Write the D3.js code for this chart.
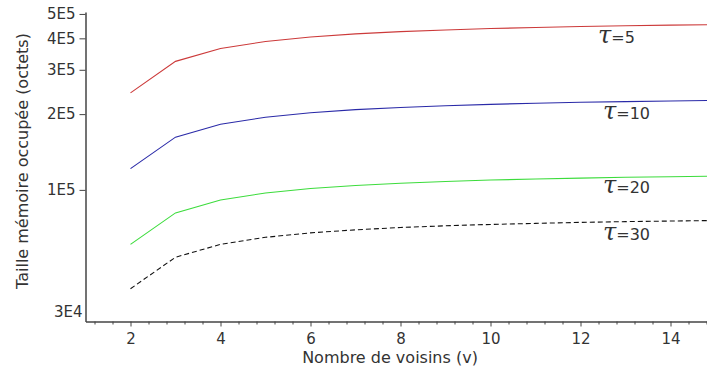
<!DOCTYPE html>
<html>
<head>
<meta charset="utf-8">
<script src="https://cdn.jsdelivr.net/npm/d3@7"></script>
<style>
  html, body { margin: 0; padding: 0; background: #fff; }
  svg { display: block; }
  text { font-family: "DejaVu Sans", Verdana, sans-serif; fill: #333; }
</style>
</head>
<body>
<svg id="chart" width="707" height="369"></svg>
<script>
// ---- data ----
const voisins = [2, 3, 4, 5, 6, 7, 8, 9, 10, 11, 12, 13, 14, 15];
const tau5  = [243000, 324000, 364500, 388800, 405000, 416600, 425300, 432000, 437400, 441800, 445500, 448600, 451300, 453600];
const tau10 = [121500, 162000, 182300, 194400, 202500, 208300, 212600, 216000, 218700, 220900, 222800, 224300, 225600, 226800];
const tau20 = [60750, 81000, 91100, 97200, 101300, 104100, 106300, 108000, 109400, 110500, 111400, 112200, 112800, 113400];
const tau30 = [40500, 54000, 60750, 64800, 67500, 69400, 70900, 72000, 72900, 73600, 74300, 74800, 75200, 75600];
const seriesNames = ["5", "10", "20", "30"];
const yTickValues = [3e4, 1e5, 2e5, 3e5, 4e5, 5e5];
const yTickLabels = ["3E4", "1E5", "2E5", "3E5", "4E5", "5E5"];
const xTickValues = [2, 4, 6, 8, 10, 12, 14];
const xTitle = "Nombre de voisins (v)";
const yTitle = "Taille mémoire occupée (octets)";

// ---- layout ----
const svg = d3.select("#chart");
svg.append("rect").attr("width", 707).attr("height", 369).attr("fill", "#fff");

const x = d3.scaleLinear().domain([1, 15]).range([85.5, 715.5]);
const y = d3.scaleLog().domain([3e4, 5.09e5]).range([321.5, 12]);

const axisColor = "#444";

// x axis
const xAxis = d3.axisBottom(x)
  .tickValues(xTickValues)
  .tickFormat(d3.format("d"))
  .tickSize(5)
  .tickSizeOuter(0);
const gx = svg.append("g").attr("transform", `translate(0,${y(3e4)})`).call(xAxis);
gx.select(".domain").attr("stroke", axisColor).attr("stroke-width", 1.5);
gx.selectAll(".tick line").attr("stroke", axisColor);
gx.selectAll(".tick text").attr("font-size", 15).attr("dy", "0.95em").attr("fill", "#333")
  .style("font-family", '"DejaVu Sans", sans-serif');

// x minor ticks
const minor = d3.range(1.2, 15.01, 0.4).filter(v => !xTickValues.some(t => Math.abs(t - v) < 1e-6));
const gxm = svg.append("g").attr("transform", `translate(0,${y(3e4)})`)
  .call(d3.axisBottom(x).tickValues(minor).tickSize(3).tickFormat(""));
gxm.select(".domain").remove();
gxm.selectAll(".tick line").attr("stroke", axisColor);

// y axis
const yAxis = d3.axisLeft(y)
  .tickValues(yTickValues)
  .tickFormat((d, i) => yTickLabels[i])
  .tickSize(6)
  .tickSizeOuter(0);
const gy = svg.append("g").attr("transform", `translate(${x(1)},0)`).call(yAxis);
gy.select(".domain").attr("stroke", axisColor).attr("stroke-width", 1.5);
gy.selectAll(".tick line").attr("stroke", axisColor);
gy.selectAll(".tick text").attr("font-size", 15).attr("fill", "#333").attr("x", -10)
  .style("font-family", '"DejaVu Sans", sans-serif');
// bottom label sits above the corner, no tick mark
gy.selectAll(".tick").filter(d => d === 3e4).each(function() {
  d3.select(this).select("line").remove();
  d3.select(this).select("text").attr("x", -3).attr("y", -10);
});

// titles
svg.append("text").attr("x", 390).attr("y", 363).attr("text-anchor", "middle")
  .attr("font-size", 16).text(xTitle);
svg.append("text").attr("transform", "translate(28,161) rotate(-90)")
  .attr("text-anchor", "middle").attr("font-size", 16).text(yTitle);

// lines
const lineGen = d3.line().x((d, i) => x(voisins[i])).y(d => y(d));
const seriesData = [tau5, tau10, tau20, tau30];
const colors = ["#cc3a3a", "#2a2aa8", "#3cdc3c", "#111"];
const dashes = [null, null, null, "5,3"];
seriesData.forEach((s, k) => {
  svg.append("path").datum(s)
    .attr("fill", "none")
    .attr("stroke", colors[k])
    .attr("stroke-width", 1.1)
    .attr("stroke-dasharray", dashes[k])
    .attr("d", lineGen);
});

// labels near curves
const labelX = [598, 603, 603, 603];
const labelV = [11.2, 11.3, 11.3, 11.3];
const labelOff = [17, 17, 15, 18];
seriesNames.forEach((n, k) => {
  const s = seriesData[k];
  const yy = y(d3.quantile(s.slice(9, 13), 0.5)) + labelOff[k];
  const t = svg.append("text").attr("x", labelX[k]).attr("y", yy).attr("font-size", 16);
  t.append("tspan").attr("font-size", 24).attr("font-style", "italic")
    .style("font-family", '"DejaVu Serif", serif').text("τ");
  t.append("tspan").text("=" + n);
});
</script>
</body>
</html>
